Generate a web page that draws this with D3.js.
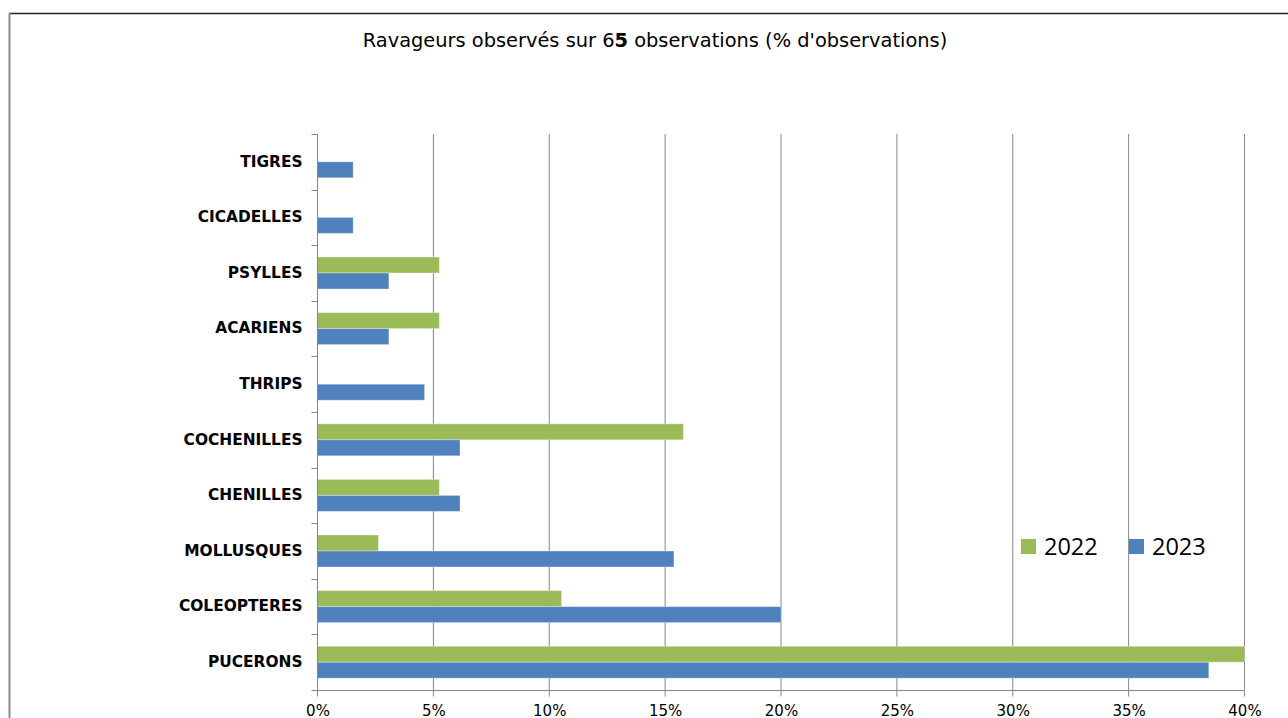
<!DOCTYPE html>
<html><head><meta charset="utf-8">
<script src="https://cdn.jsdelivr.net/npm/d3@7"></script>
<style>
html,body{margin:0;padding:0;background:#fff;overflow:hidden}
svg{display:block}
</style></head>
<body>
<svg id="chart" width="1288" height="718"></svg>
<script>
const categories = ["TIGRES","CICADELLES","PSYLLES","ACARIENS","THRIPS","COCHENILLES","CHENILLES","MOLLUSQUES","COLEOPTERES","PUCERONS"];
const series = ["2022","2023"];
const values2022 = [null,null,5.26,5.26,null,15.79,5.26,2.63,10.53,40.0];
const values2023 = [1.54,1.54,3.08,3.08,4.62,6.15,6.15,15.38,20.0,38.46];
const tickValues = [0,5,10,15,20,25,30,35,40];
const colors = {"2022":"#9BBB59","2023":"#4F81BD"};

const svg = d3.select("#chart");
// outer frame
svg.append("line").attr("x1",9).attr("x2",1288).attr("y1",13.5).attr("y2",13.5).attr("stroke","#222").attr("stroke-width",1.5);
svg.append("line").attr("x1",9.5).attr("x2",9.5).attr("y1",13).attr("y2",718).attr("stroke","#8a8a8a").attr("stroke-width",2);

// title
const title = svg.append("text").attr("x",655).attr("y",47).attr("text-anchor","middle")
  .attr("font-family","DejaVu Sans, Verdana, sans-serif").attr("font-size",19.4).attr("fill","#000");
title.append("tspan").text("Ravageurs observés sur 6");
title.append("tspan").attr("font-weight","bold").text("5");
title.append("tspan").text(" observations (% d'observations)");

const x = d3.scaleLinear().domain([0,40]).range([317,1244]);
const y = d3.scaleBand().domain(categories).range([134,690]).padding(0);
const yInner = d3.scaleBand().domain(series).range([0,y.bandwidth()]).paddingInner(0).paddingOuter(0.7375);

// gridlines
svg.append("g").selectAll("line").data(tickValues.filter(d=>d>0)).join("line")
  .attr("x1",d=>x(d)+0.5).attr("x2",d=>x(d)+0.5).attr("y1",134).attr("y2",690)
  .attr("stroke","#868686").attr("stroke-width",1);

// bars
const rows = categories.map((c,i)=>({cat:c, v:{"2022":values2022[i],"2023":values2023[i]}}));
const g = svg.append("g");
rows.forEach(r=>{
  series.forEach(s=>{
    const v = r.v[s];
    if(v==null) return;
    g.append("rect")
      .attr("x",x(0)+0.5).attr("y",y(r.cat)+yInner(s))
      .attr("width",Math.min(x(v),x(40))-x(0)).attr("height",yInner.bandwidth())
      .attr("fill",colors[s]).attr("stroke","#ffffff").attr("stroke-opacity",0.35).attr("stroke-width",1);
  });
});

// y axis
const yAxis = svg.append("g").attr("transform","translate(317.5,0)");
yAxis.append("line").attr("x1",0).attr("x2",0).attr("y1",134).attr("y2",690).attr("stroke","#868686");
const yTicks = categories.map(c=>y(c)).concat([690]);
yAxis.selectAll("line.t").data(yTicks).join("line").attr("class","t")
  .attr("x1",-6).attr("x2",0).attr("y1",d=>Math.round(d)+0.5).attr("y2",d=>Math.round(d)+0.5).attr("stroke","#868686");
yAxis.selectAll("text").data(categories).join("text")
  .attr("x",-15).attr("y",d=>y(d)+y.bandwidth()/2-0.5).attr("dy","0.35em")
  .attr("text-anchor","end").attr("font-family","DejaVu Sans, Verdana, sans-serif")
  .attr("font-weight","bold").attr("font-size",15.4).attr("fill","#000").text(d=>d);

// x axis
const xAxis = svg.append("g").attr("transform","translate(0,690.5)");
xAxis.append("line").attr("x1",312).attr("x2",1244).attr("y1",0).attr("y2",0).attr("stroke","#868686");
xAxis.selectAll("line.t").data(tickValues).join("line").attr("class","t")
  .attr("x1",d=>x(d)+0.5).attr("x2",d=>x(d)+0.5).attr("y1",0).attr("y2",6).attr("stroke","#868686");
xAxis.selectAll("text").data(tickValues).join("text")
  .attr("x",d=>x(d)+1).attr("y",25).attr("text-anchor","middle")
  .attr("font-family","DejaVu Sans, Verdana, sans-serif").attr("font-size",15).attr("fill","#000")
  .text(d=>d+"%");

// legend
const leg = svg.append("g");
const legPos = [{s:"2022",x:1021},{s:"2023",x:1129}];
legPos.forEach(p=>{
  leg.append("rect").attr("x",p.x).attr("y",539).attr("width",15).attr("height",15).attr("fill",colors[p.s]);
  leg.append("text").attr("x",p.x+23).attr("y",555).attr("font-family","Open Sans, Noto Sans, sans-serif")
    .attr("font-size",23.5).attr("fill","#000").text(p.s);
});
</script>
</body></html>
